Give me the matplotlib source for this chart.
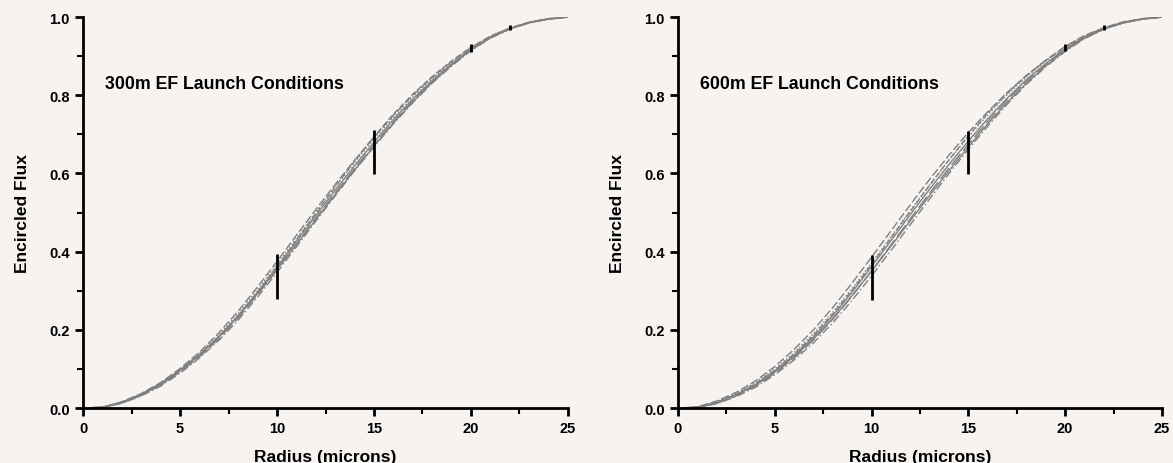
import matplotlib.pyplot as plt
from matplotlib.ticker import MultipleLocator

plt.rcParams['font.family'] = ['Liberation Sans', 'DejaVu Sans']
plt.rcParams['font.weight'] = 'bold'

radius = list(range(26))

# encircled flux curves
left_curves = [
    [0, 0.002, 0.014, 0.034, 0.060, 0.095, 0.135, 0.182, 0.236, 0.296, 0.360, 0.426, 0.492,
     0.557, 0.620, 0.680, 0.738, 0.790, 0.838, 0.880, 0.918, 0.948, 0.970, 0.986, 0.995, 1.0],
    [0, 0.002, 0.016, 0.037, 0.065, 0.101, 0.143, 0.192, 0.248, 0.310, 0.375, 0.442, 0.508,
     0.572, 0.634, 0.693, 0.749, 0.800, 0.846, 0.886, 0.922, 0.951, 0.972, 0.987, 0.996, 1.0],
    [0, 0.001, 0.012, 0.031, 0.056, 0.089, 0.128, 0.173, 0.225, 0.284, 0.347, 0.412, 0.478,
     0.543, 0.607, 0.668, 0.727, 0.781, 0.831, 0.875, 0.914, 0.946, 0.969, 0.985, 0.995, 1.0],
    [0, 0.002, 0.015, 0.035, 0.062, 0.098, 0.139, 0.187, 0.242, 0.303, 0.368, 0.434, 0.500,
     0.565, 0.628, 0.688, 0.744, 0.795, 0.842, 0.883, 0.920, 0.950, 0.971, 0.986, 0.996, 1.0],
    [0, 0.001, 0.013, 0.032, 0.058, 0.092, 0.131, 0.177, 0.230, 0.290, 0.353, 0.419, 0.485,
     0.550, 0.613, 0.674, 0.732, 0.786, 0.835, 0.878, 0.916, 0.947, 0.970, 0.986, 0.995, 1.0],
    [0, 0.002, 0.014, 0.033, 0.059, 0.094, 0.134, 0.181, 0.236, 0.297, 0.362, 0.430, 0.498,
     0.566, 0.632, 0.694, 0.752, 0.803, 0.848, 0.888, 0.923, 0.951, 0.972, 0.987, 0.996, 1.0],
    [0, 0.002, 0.015, 0.036, 0.063, 0.097, 0.137, 0.183, 0.235, 0.293, 0.355, 0.418, 0.482,
     0.546, 0.609, 0.670, 0.729, 0.783, 0.833, 0.877, 0.916, 0.947, 0.970, 0.986, 0.995, 1.0],
]

# encircled flux curves
right_curves = [
    [0, 0.002, 0.014, 0.034, 0.060, 0.095, 0.135, 0.182, 0.236, 0.297, 0.362, 0.428, 0.495,
     0.560, 0.623, 0.683, 0.740, 0.792, 0.840, 0.881, 0.919, 0.949, 0.971, 0.986, 0.995, 1.0],
    [0, 0.003, 0.018, 0.040, 0.069, 0.106, 0.150, 0.200, 0.257, 0.320, 0.386, 0.453, 0.520,
     0.585, 0.647, 0.705, 0.758, 0.807, 0.851, 0.890, 0.925, 0.953, 0.973, 0.988, 0.996, 1.0],
    [0, 0.001, 0.011, 0.029, 0.053, 0.085, 0.123, 0.167, 0.218, 0.276, 0.338, 0.403, 0.469,
     0.535, 0.600, 0.662, 0.721, 0.777, 0.828, 0.873, 0.912, 0.945, 0.969, 0.985, 0.995, 1.0],
    [0, 0.002, 0.016, 0.037, 0.065, 0.100, 0.142, 0.190, 0.245, 0.306, 0.371, 0.438, 0.505,
     0.571, 0.634, 0.694, 0.750, 0.801, 0.847, 0.887, 0.922, 0.951, 0.972, 0.987, 0.996, 1.0],
    [0, 0.001, 0.012, 0.031, 0.056, 0.089, 0.128, 0.174, 0.227, 0.287, 0.351, 0.417, 0.484,
     0.550, 0.614, 0.675, 0.733, 0.787, 0.836, 0.879, 0.917, 0.948, 0.970, 0.986, 0.995, 1.0],
    [0, 0.002, 0.015, 0.035, 0.062, 0.097, 0.138, 0.186, 0.241, 0.302, 0.367, 0.435, 0.503,
     0.570, 0.635, 0.697, 0.754, 0.805, 0.850, 0.889, 0.924, 0.952, 0.972, 0.987, 0.996, 1.0],
    [0, 0.001, 0.013, 0.033, 0.058, 0.092, 0.131, 0.177, 0.229, 0.288, 0.350, 0.414, 0.479,
     0.544, 0.607, 0.668, 0.727, 0.781, 0.831, 0.875, 0.914, 0.946, 0.969, 0.985, 0.995, 1.0],
]

styles = ['-', (0, (6, 2)), (0, (6, 2, 1, 2)), (0, (1, 1.5)), (0, (10, 3)), (0, (4, 2)), '-']

# vertical range bars (radius, low, high)
bar_r = [10, 15, 20, 22]
left_lo = [0.279, 0.598, 0.910, 0.968]
left_hi = [0.394, 0.710, 0.930, 0.980]
right_lo = [0.277, 0.598, 0.912, 0.968]
right_hi = [0.392, 0.708, 0.930, 0.980]

titles = ['300m EF Launch Conditions', '600m EF Launch Conditions']

fig = plt.figure(figsize=(11.73, 4.64), dpi=100)
fig.patch.set_facecolor('#f6f3f1')
ax1 = fig.add_axes([0.0708, 0.1185, 0.4134, 0.8425])
ax2 = fig.add_axes([0.578, 0.1185, 0.4126, 0.8425])

panels = [(ax1, left_curves, left_lo, left_hi, titles[0]),
          (ax2, right_curves, right_lo, right_hi, titles[1])]

for ax, curves, lo, hi, title in panels:
    ax.set_facecolor('#f6f3f1')
    for c, ls in zip(curves, styles):
        ax.plot(radius, c, color='#808080', lw=1.0, linestyle=ls)
    ax.vlines(bar_r, lo, hi, color='black', lw=2.0, zorder=5)
    ax.set_xlim(0, 25)
    ax.set_ylim(0, 1.0)
    ax.xaxis.set_major_locator(MultipleLocator(5))
    ax.xaxis.set_minor_locator(MultipleLocator(2.5))
    ax.yaxis.set_major_locator(MultipleLocator(0.2))
    ax.yaxis.set_minor_locator(MultipleLocator(0.1))
    ax.spines['top'].set_visible(False)
    ax.spines['right'].set_visible(False)
    for s in ['left', 'bottom']:
        ax.spines[s].set_linewidth(2)
    ax.tick_params(which='major', direction='out', length=6, width=2, labelsize=10.5)
    ax.tick_params(which='minor', direction='out', length=4, width=1.5)
    ax.set_yticklabels(['%.1f' % v for v in ax.get_yticks()])
    ax.set_xlabel('Radius (microns)', fontsize=12.5, fontweight='bold', labelpad=10)
    ax.set_ylabel('Encircled Flux', fontsize=12.5, fontweight='bold', labelpad=14)
    ax.text(0.045, 0.829, title, transform=ax.transAxes, fontsize=12.8,
            fontweight='bold', va='center', ha='left')

plt.savefig('out.png', dpi=100, facecolor=fig.get_facecolor())
